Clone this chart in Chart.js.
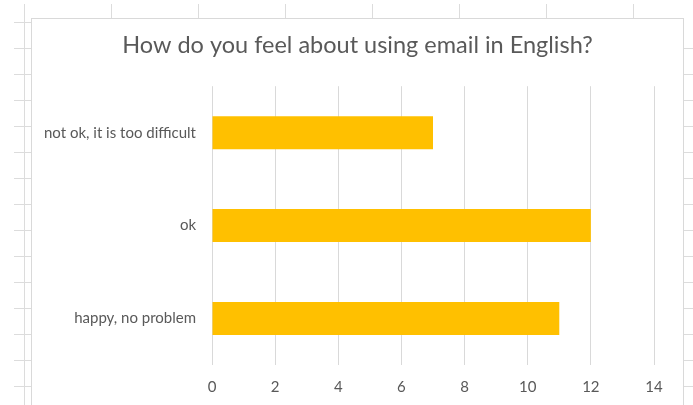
<!DOCTYPE html>
<html>
<head>
<meta charset="utf-8">
<script src="https://cdn.jsdelivr.net/npm/chart.js@4"></script>
<style>
  html, body { margin: 0; padding: 0; background: #fff; }
  #wrap { width: 693px; height: 405px; }
</style>
</head>
<body>
<div id="wrap"><canvas id="feelChart" width="693" height="405"></canvas></div>
<script>
// survey answers
const answers = ["not ok, it is too difficult", "ok", "happy, no problem"];
const counts = [7, 12, 11];
const chartTitle = "How do you feel about using email in English?";

const FONT = "Lato, 'Open Sans', sans-serif";
const TEXT = "#595959";
const GRID = "#d9d9d9";

// sheet cells behind the chart object
const sheetBackground = {
  id: "sheetBackground",
  beforeDraw(chart) {
    const ctx = chart.ctx;
    ctx.save();
    ctx.fillStyle = "#fff";
    ctx.fillRect(0, 0, chart.width, chart.height);
    ctx.strokeStyle = "#dcdcdc";
    ctx.lineWidth = 1;
    ctx.beginPath();
    // column lines along the top
    for (let x = 111; x < chart.width; x += 87) {
      ctx.moveTo(x + 0.5, 4);
      ctx.lineTo(x + 0.5, 19);
    }
    // left column edge
    ctx.moveTo(24.5, 4);
    ctx.lineTo(24.5, chart.height);
    // row lines on the left and right
    for (let y = 22; y < chart.height; y += 26) {
      ctx.moveTo(14, y + 0.5);
      ctx.lineTo(32, y + 0.5);
      if (y > 30) {
        ctx.moveTo(684, y + 0.5);
        ctx.lineTo(chart.width, y + 0.5);
      }
    }
    ctx.stroke();
    // chart frame
    ctx.fillStyle = "#fff";
    ctx.fillRect(32, 19, 651, chart.height);
    ctx.strokeStyle = "#d9d9d9";
    ctx.strokeRect(31.5, 18.5, 652, chart.height + 10);
    ctx.restore();
  }
};

new Chart(document.getElementById("feelChart"), {
  type: "bar",
  data: {
    labels: answers,
    datasets: [{
      data: counts,
      backgroundColor: "#ffc000",
      borderWidth: 0,
      barPercentage: 0.355,
      categoryPercentage: 1
    }]
  },
  options: {
    indexAxis: "y",
    responsive: false,
    animation: false,
    layout: { padding: { left: 32, right: 10, top: 19, bottom: 0 } },
    plugins: {
      legend: { display: false },
      tooltip: { enabled: false },
      title: {
        display: true,
        text: chartTitle,
        color: TEXT,
        font: { family: FONT, size: 23.5, weight: "normal" },
        padding: { top: 12, bottom: 27 }
      }
    },
    scales: {
      x: {
        min: 0,
        max: 14,
        ticks: { stepSize: 2, color: TEXT, padding: 13, font: { family: FONT, size: 15 } },
        grid: { color: GRID, drawTicks: false },
        border: { display: false },
        afterFit(scale) { scale.height = 40; }
      },
      y: {
        ticks: { color: TEXT, padding: 8, font: { family: FONT, size: 15 } },
        grid: { display: false },
        border: { display: false },
        afterFit(scale) { scale.width = 180; }
      },
      // empty strip on the right so the plot ends short of the frame
      yRight: {
        type: "category",
        position: "right",
        ticks: { display: false },
        grid: { display: false },
        border: { display: false },
        afterFit(scale) { scale.width = 29; }
      }
    }
  },
  plugins: [sheetBackground]
});
</script>
</body>
</html>
